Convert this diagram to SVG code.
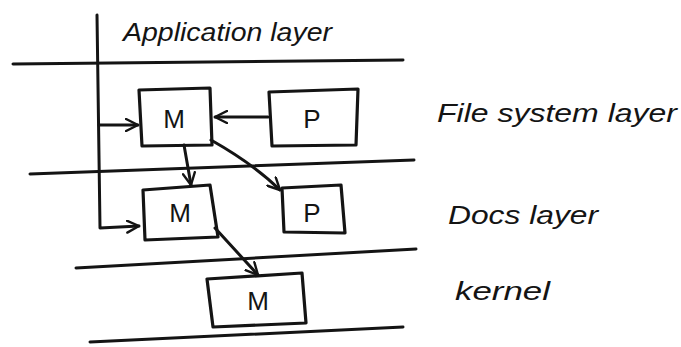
<svg xmlns="http://www.w3.org/2000/svg" width="681" height="347" viewBox="0 0 681 347">
  <style>
    .ink { fill: none; stroke: #141414; stroke-width: 3; stroke-linecap: round; stroke-linejoin: round; }
    .box { fill: none; stroke: #141414; stroke-width: 3.2; stroke-linejoin: round; }
    .lbl { font-family: "Liberation Sans", Arial, sans-serif; fill: #141414; }
    .layer { font-size: 25px; font-style: italic; }
    .node { font-size: 26px; text-anchor: middle; }
  </style>
  <defs>
    <marker id="arrow" viewBox="0 0 14 14" refX="13" refY="7" markerWidth="14" markerHeight="14" markerUnits="userSpaceOnUse" orient="auto">
      <polyline points="1,1 13,7 1,13" fill="none" stroke="#141414" stroke-width="2.4" stroke-linecap="round" stroke-linejoin="round"/>
    </marker>
  </defs>
  <rect width="681" height="347" fill="#ffffff"/>

  <!-- layer boundaries -->
  <g id="layer-lines">
    <path class="ink" d="M13 64 L403 60"/>
    <path class="ink" d="M30 174 L414 160"/>
    <path class="ink" d="M76 268 L416 249"/>
    <path class="ink" d="M90 342 L403 327"/>
  </g>

  <!-- layer captions -->
  <g id="captions">
    <text class="lbl layer" x="123" y="41" textLength="209" lengthAdjust="spacingAndGlyphs">Application layer</text>
    <text class="lbl layer" x="437" y="122" textLength="240" lengthAdjust="spacingAndGlyphs">File system layer</text>
    <text class="lbl layer" x="448" y="224" textLength="150" lengthAdjust="spacingAndGlyphs">Docs layer</text>
    <text class="lbl layer" x="455" y="300" textLength="95" lengthAdjust="spacingAndGlyphs">kernel</text>
  </g>

  <!-- file system layer -->
  <g id="fs-m">
    <path class="box" d="M139 90 L210 88 L212 145 L142 146 Z"/>
    <text class="lbl node" x="174" y="128">M</text>
  </g>
  <g id="fs-p">
    <path class="box" d="M269 92 L358 89 L356 145 L272 146 Z"/>
    <text class="lbl node" x="312" y="128">P</text>
  </g>

  <!-- docs layer -->
  <g id="docs-m">
    <path class="box" d="M143 190 L210 185 L218 237 L145 240 Z"/>
    <text class="lbl node" x="180" y="222">M</text>
  </g>
  <g id="docs-p">
    <path class="box" d="M282 188 L341 185 L345 233 L284 232 Z"/>
    <text class="lbl node" x="312" y="222">P</text>
  </g>

  <!-- kernel -->
  <g id="kernel-m">
    <path class="box" d="M207 279 L302 273 L306 323 L213 327 Z"/>
    <text class="lbl node" x="258" y="310">M</text>
  </g>

  <!-- connectors -->
  <g id="connectors">
    <path class="ink" d="M97 15 L100 228 L139 226" marker-end="url(#arrow)"/>
    <path class="ink" d="M99 125 L138 125" marker-end="url(#arrow)"/>
    <path class="ink" d="M268 117 L215 117" marker-end="url(#arrow)"/>
    <path class="ink" d="M184 145 L191 185" marker-end="url(#arrow)"/>
    <path class="ink" d="M211 140 Q255 165 280 190" marker-end="url(#arrow)"/>
    <path class="ink" d="M215 228 L258 275" marker-end="url(#arrow)"/>
  </g>
</svg>
